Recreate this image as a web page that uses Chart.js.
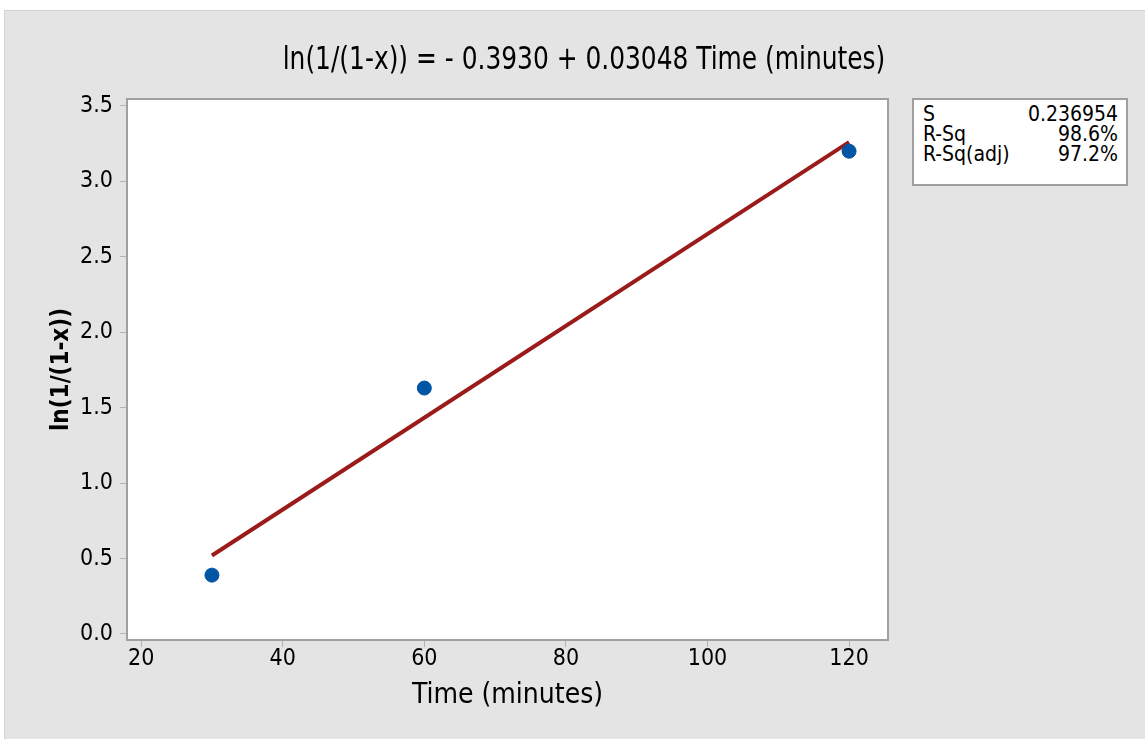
<!DOCTYPE html>
<html>
<head>
<meta charset="utf-8">
<script src="https://cdn.jsdelivr.net/npm/chart.js@4.4.0/dist/chart.umd.min.js"></script>
<style>
    body { margin: 0; background: #ffffff; }
    #frame {
        position: absolute; left: 4px; top: 10px; width: 1141px; height: 729px;
        background: #e4e4e4; border-top: 1px solid #d2d2d2; border-left: 1px solid #d2d2d2;
        box-sizing: border-box;
    }
    #chartFit { position: absolute; left: 0; top: 0; }
    .narrow { font-family: "DejaVu Sans Condensed", "Open Sans", sans-serif; color: #000; }
    #title {
        position: absolute; left: 0; width: 1158px; top: 28px; text-align: center; font-size: 32px;
        transform: scaleX(0.865); transform-origin: 579px 0;
    }
    #stats {
        position: absolute; left: 907px; top: 87px; width: 216px; height: 88px;
        background: #fff; border: 2px solid #a0a0a0; box-sizing: border-box;
        padding: 4px 8px 0 9px; font-size: 21px; line-height: 20px;
    }
    #stats div { display: flex; justify-content: space-between; }
</style>
</head>
<body>
<div id="frame">
    <canvas id="chartFit" width="1141" height="729"></canvas>
    <div id="title" class="narrow">ln(1/(1-x)) = - 0.3930 + 0.03048 Time (minutes)</div>
    <div id="stats" class="narrow"></div>
</div>
<script>
// Data for the chart
const timeMinutes = [30, 60, 120];
const lnValues = [0.39, 1.63, 3.20];
const fitTime = [30, 120];
const fitValues = [0.52, 3.26];
const xTicks = [20, 40, 60, 80, 100, 120];
const yTicks = [0.0, 0.5, 1.0, 1.5, 2.0, 2.5, 3.0, 3.5];
const statLabels = ["S", "R-Sq", "R-Sq(adj)"];
const statValues = ["0.236954", "98.6%", "97.2%"];

const FONT = "'DejaVu Sans Condensed', 'Open Sans', sans-serif";

// Stats box
document.getElementById("stats").innerHTML = statLabels
    .map((lab, i) => "<div><span>" + lab + "</span><span>" + statValues[i] + "</span></div>")
    .join("");

// White plot area with a grey frame
const plotFrame = {
    id: "plotFrame",
    beforeDatasetsDraw(chart) {
        const { ctx, chartArea: a } = chart;
        ctx.save();
        ctx.fillStyle = "#ffffff";
        ctx.fillRect(a.left, a.top, a.right - a.left, a.bottom - a.top);
        ctx.restore();
    },
    afterDatasetsDraw(chart) {
        const { ctx, chartArea: a } = chart;
        ctx.save();
        ctx.strokeStyle = "#a0a0a0";
        ctx.lineWidth = 2;
        ctx.strokeRect(a.left, a.top, a.right - a.left, a.bottom - a.top);
        ctx.restore();
    }
};

const ctx = document.getElementById("chartFit").getContext("2d");
new Chart(ctx, {
    type: "scatter",
    data: {
        datasets: [
            {
                label: "Fit",
                type: "line",
                data: fitTime.map((t, i) => ({ x: t, y: fitValues[i] })),
                borderColor: "#9b1a1a",
                borderWidth: 4,
                pointRadius: 0,
                fill: false,
                order: 2
            },
            {
                label: "Data",
                data: timeMinutes.map((t, i) => ({ x: t, y: lnValues[i] })),
                backgroundColor: "#0055a5",
                borderColor: "#0055a5",
                pointRadius: 7,
                order: 1
            }
        ]
    },
    options: {
        responsive: false,
        animation: false,
        layout: { padding: { top: 88, right: 258, left: 0, bottom: 0 } },
        plugins: {
            legend: { display: false },
            tooltip: { enabled: false }
        },
        scales: {
            x: {
                type: "linear",
                min: 18,
                max: 125.5,
                afterBuildTicks: (scale) => { scale.ticks = xTicks.map(v => ({ value: v })); },
                afterFit: (scale) => { scale.height = 100; },
                grid: { drawOnChartArea: false, tickLength: 7, color: "#b4b4b4", lineWidth: 1 },
                border: { color: "#a0a0a0", width: 2 },
                ticks: { color: "#000", font: { family: FONT, size: 23 }, padding: -2, maxRotation: 0 },
                title: {
                    display: true, text: "Time (minutes)", color: "#000",
                    font: { family: FONT, size: 28 }, padding: { top: 0, bottom: 27 }
                }
            },
            y: {
                type: "linear",
                min: -0.04,
                max: 3.546,
                afterBuildTicks: (scale) => { scale.ticks = yTicks.map(v => ({ value: v })); },
                afterFit: (scale) => { scale.width = 122; },
                grid: { drawOnChartArea: false, tickLength: 7, color: "#b4b4b4", lineWidth: 1 },
                border: { color: "#a0a0a0", width: 2 },
                ticks: {
                    color: "#000", font: { family: FONT, size: 23 }, padding: 7,
                    callback: (v) => Number(v).toFixed(1)
                },
                title: {
                    display: true, text: "ln(1/(1-x))", color: "#000",
                    font: { family: FONT, size: 24, weight: "bold" }, padding: { top: 42, bottom: 0 }
                }
            }
        }
    },
    plugins: [plotFrame]
});
</script>
</body>
</html>
